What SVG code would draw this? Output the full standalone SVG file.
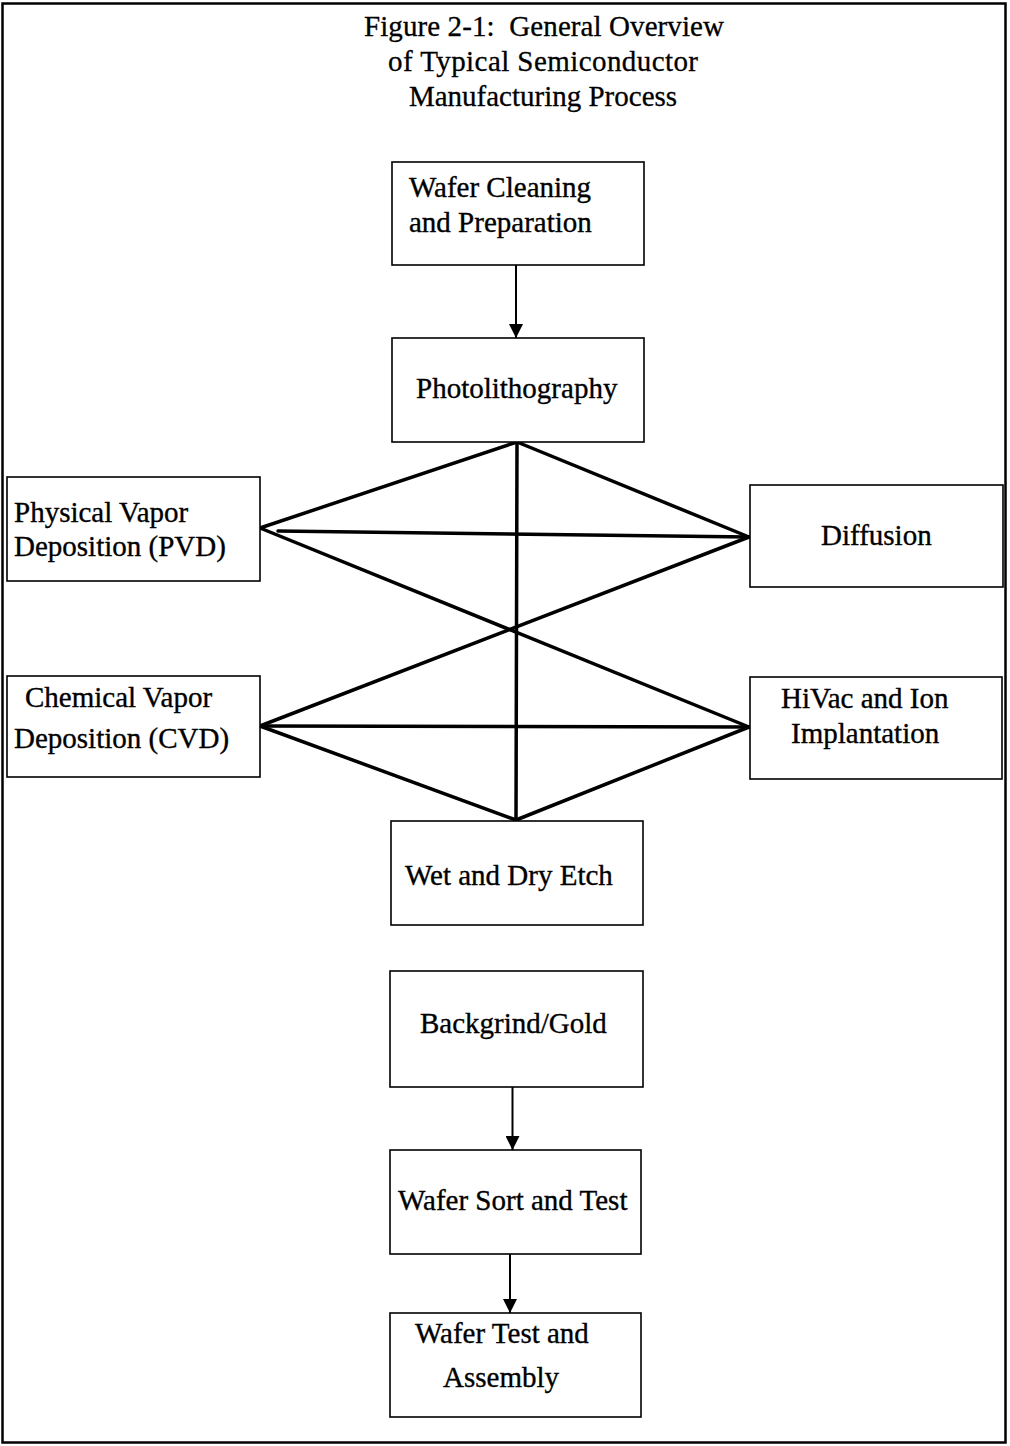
<svg xmlns="http://www.w3.org/2000/svg" width="1010" height="1446" viewBox="0 0 1010 1446">
<style>
.box{fill:#fff;stroke:#000;stroke-width:1.6}
.t{font-family:"Liberation Serif","Times New Roman",serif;font-size:29px;fill:#000;stroke:#000;stroke-width:0.35}
.title{font-family:"Liberation Serif","Times New Roman",serif;font-size:29px;fill:#000;stroke:#000;stroke-width:0.3;text-anchor:middle}
.x{stroke:#000;stroke-width:3.5;fill:none;stroke-linecap:round}
.a{stroke:#000;stroke-width:2;fill:none}
</style>
<defs>
<marker id="ah" viewBox="0 0 14 14" refX="14" refY="7" markerWidth="14" markerHeight="14" markerUnits="userSpaceOnUse" orient="auto">
<path d="M0,0 L14,7 L0,14 Z" fill="#000"/>
</marker>
</defs>
<rect x="0" y="0" width="1010" height="1446" fill="#fff"/>
<rect x="2.5" y="3.5" width="1003" height="1439" fill="none" stroke="#000" stroke-width="2.5"/>
<g id="title">
<text class="title" x="544" y="36" textLength="360">Figure 2-1:&#160; General Overview</text>
<text class="title" x="543" y="71" textLength="310">of Typical Semiconductor</text>
<text class="title" x="543" y="106">Manufacturing Process</text>
</g>
<g id="connectors">
<line class="a" x1="516" y1="265" x2="516" y2="338" marker-end="url(#ah)"/>
<line class="a" x1="512.5" y1="1087" x2="512.5" y2="1150" marker-end="url(#ah)"/>
<line class="a" x1="510" y1="1254" x2="510" y2="1313" marker-end="url(#ah)"/>
<line class="x" x1="517" y1="442" x2="260" y2="528"/>
<line class="x" x1="517" y1="442" x2="749" y2="537"/>
<line class="x" x1="517" y1="442" x2="516" y2="820"/>
<line class="x" x1="278" y1="531" x2="749" y2="537"/>
<line class="x" x1="260" y1="528" x2="749" y2="727"/>
<line class="x" x1="260" y1="726" x2="749" y2="537"/>
<line class="x" x1="260" y1="726" x2="749" y2="727"/>
<line class="x" x1="260" y1="726" x2="516" y2="820"/>
<line class="x" x1="749" y1="727" x2="516" y2="820"/>
</g>
<g id="wafer-cleaning">
<rect class="box" x="392" y="162" width="252" height="103"/>
<text class="t" x="409" y="197">Wafer Cleaning</text>
<text class="t" x="409" y="232">and Preparation</text>
</g>
<g id="photolithography">
<rect class="box" x="392" y="338" width="252" height="104"/>
<text class="t" x="416" y="398">Photolithography</text>
</g>
<g id="pvd">
<rect class="box" x="7" y="477" width="253" height="104"/>
<text class="t" x="14" y="522">Physical Vapor</text>
<text class="t" x="14" y="556">Deposition (PVD)</text>
</g>
<g id="cvd">
<rect class="box" x="7" y="676" width="253" height="101"/>
<text class="t" x="25" y="707">Chemical Vapor</text>
<text class="t" x="14" y="748">Deposition (CVD)</text>
</g>
<g id="diffusion">
<rect class="box" x="750" y="485" width="253" height="102"/>
<text class="t" x="821" y="545">Diffusion</text>
</g>
<g id="hivac">
<rect class="box" x="750" y="677" width="252" height="102"/>
<text class="t" x="781" y="708">HiVac and Ion</text>
<text class="t" x="791" y="743">Implantation</text>
</g>
<g id="etch">
<rect class="box" x="391" y="821" width="252" height="104"/>
<text class="t" x="405" y="885">Wet and Dry Etch</text>
</g>
<g id="backgrind">
<rect class="box" x="390" y="971" width="253" height="116"/>
<text class="t" x="420" y="1033">Backgrind/Gold</text>
</g>
<g id="wafer-sort">
<rect class="box" x="390" y="1150" width="251" height="104"/>
<text class="t" x="398" y="1210">Wafer Sort and Test</text>
</g>
<g id="wafer-test">
<rect class="box" x="390" y="1313" width="251" height="104"/>
<text class="t" x="415" y="1343">Wafer Test and</text>
<text class="t" x="443" y="1387">Assembly</text>
</g>
</svg>
